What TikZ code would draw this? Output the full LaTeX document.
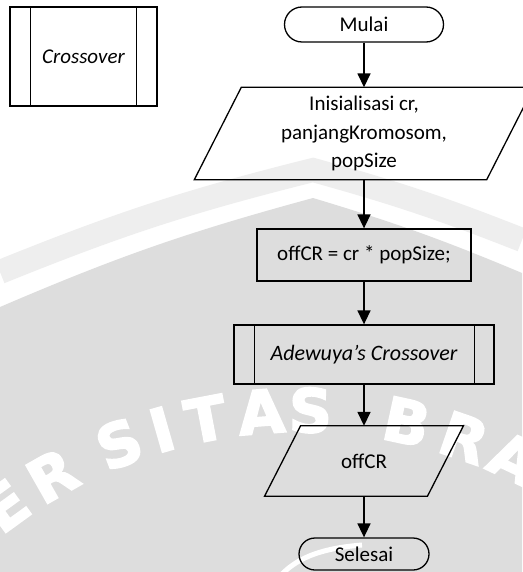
\documentclass[tikz,border=0pt]{standalone}
\usepackage{fontspec}
\setmainfont{Carlito}
\newfontfamily\markfont[FakeBold=3]{DejaVu Sans}
\usetikzlibrary{arrows.meta}
\definecolor{wmgray}{RGB}{221,221,221}
\definecolor{wmlight}{RGB}{238,238,238}
\newcommand\sealletter[1]{{\markfont\bfseries\fontsize{60}{60}\selectfont #1}}

\begin{document}
\begin{tikzpicture}[x=1pt,y=-1pt,
  font=\fontsize{21}{28.5}\selectfont,
  box/.style={draw, line width=1.3pt, inner sep=0pt, align=center},
  ioshape/.style={inner sep=0pt, align=center},
  edge/.style={line width=1.3pt, line join=miter},
  flow/.style={line width=1.6pt, -{Triangle[width=13pt,length=14pt]}},
  markletter/.style={text=white, inner sep=0pt, anchor=base}
]
\useasboundingbox (0,0) rectangle (522,572);

% ---- faint background seal ----
\fill[white] (0,0) rectangle (522,572);
\fill[wmgray] (0,307) to[bend left=4] (313,198) to[bend left=3] (522,273)
  -- (522,572) -- (0,572) -- cycle;
\draw[wmlight, line width=24pt] (0,272) to[bend left=4] (313,170) to[bend left=3] (522,240);
\draw[white, line width=13pt] (0,299) to[bend left=4] (313,190) to[bend left=3] (522,265);
\draw[white, line width=5pt] (282,574) .. controls (300,556) and (325,548) .. (362,545);
\begin{scope}[shift={(300,912)}, y=1pt]
  \foreach \ch/\xc in {E/18,R/63,S/127,I/168,T/210,A/263,S/310,B/402,R/457,A/505}{
    \pgfmathsetmacro\ang{asin((\xc-300)/480)}
    \node[markletter, rotate=-\ang] at (90-\ang:480) {\sealletter{\ch}};
  }
\end{scope}

% ---- legend symbol ----
\node[box, minimum width=147pt, minimum height=99pt] (legend) at (83.5,56.5) {\itshape Crossover};
\draw[edge] ([xshift=21pt]legend.north west) -- ([xshift=21pt]legend.south west);
\draw[edge] ([xshift=-21pt]legend.north east) -- ([xshift=-21pt]legend.south east);

% ---- flowchart ----
\node[box, rounded corners=17.5pt, minimum width=159pt, minimum height=35pt] (start) at (364,24.5) {Mulai};

\node[ioshape, minimum width=292pt, minimum height=92pt] (init) at (364,133.5)
  {Inisialisasi cr,\\panjangKromosom,\\popSize};
\draw[edge] ([xshift=23.5pt]init.north west) -- ([xshift=23.5pt]init.north east)
  -- ([xshift=-23.5pt]init.south east) -- ([xshift=-23.5pt]init.south west) -- cycle;

\node[box, minimum width=214pt, minimum height=52pt] (calc) at (364,255) {offCR = cr * popSize;};

\node[box, minimum width=260pt, minimum height=59pt] (sub) at (364,354.5)
  {\fontsize{22}{26}\selectfont\itshape Adewuya’s Crossover};
\draw[edge] ([xshift=21pt]sub.north west) -- ([xshift=21pt]sub.south west);
\draw[edge] ([xshift=-20pt]sub.north east) -- ([xshift=-20pt]sub.south east);

\node[ioshape, minimum width=162.5pt, minimum height=70pt] (out) at (364,461) {offCR};
\draw[edge] ([xshift=18pt]out.north west) -- ([xshift=18pt]out.north east)
  -- ([xshift=-18pt]out.south east) -- ([xshift=-18pt]out.south west) -- cycle;

\node[box, rounded corners=16pt, minimum width=130pt, minimum height=32pt] (stop) at (364,554) {Selesai};

\draw[flow] (start.south) -- (init.north);
\draw[flow] (init.south) -- (calc.north);
\draw[flow] (calc.south) -- (sub.north);
\draw[flow] (sub.south) -- (out.north);
\draw[flow] (out.south) -- (stop.north);
\end{tikzpicture}
\end{document}
